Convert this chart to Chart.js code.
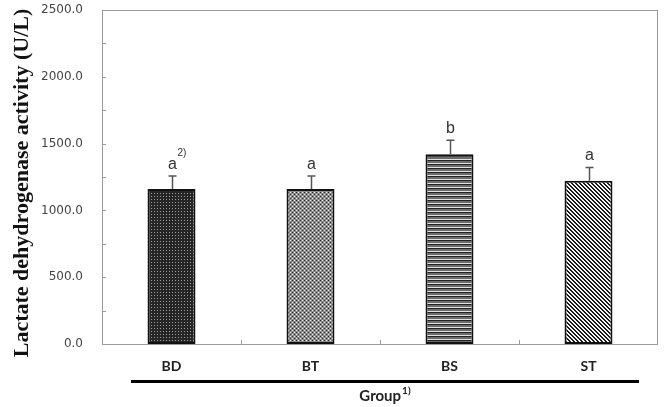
<!DOCTYPE html>
<html>
<head>
<meta charset="utf-8">
<script src="https://cdn.jsdelivr.net/npm/chart.js@4.4.1/dist/chart.umd.min.js"></script>
<style>
  html, body { margin: 0; padding: 0; background: #fff; }
  #wrap { width: 670px; height: 407px; }
</style>
</head>
<body>
<div id="wrap"><canvas id="ldhChart" width="670" height="407"></canvas></div>
<script>
// values
const groups = ['BD', 'BT', 'BS', 'ST'];
const ldhMean = [1160, 1160, 1420, 1222];
const ldhErr = [97, 97, 105, 100];
const sigLetters = ['a', 'a', 'b', 'a'];
const yMin = 0;
const yMax = 2500;
const yStep = 250;        // small ticks, label every 500
const yTitle = 'Lactate dehydrogenase activity (U/L)';
const xTitle = 'Group';

// little tiles for the hatch fills
function makePattern(w, h, paint) {
  const c = document.createElement('canvas');
  c.width = w; c.height = h;
  const g = c.getContext('2d');
  paint(g);
  return g.createPattern(c, 'repeat');
}

const fillBD = makePattern(3, 3, g => {
  g.fillStyle = '#262626'; g.fillRect(0, 0, 3, 3);
  g.fillStyle = '#9a9a9a'; g.fillRect(1, 1, 1, 1);
});
const fillBT = makePattern(4, 4, g => {
  g.fillStyle = '#8c8c8c'; g.fillRect(0, 0, 4, 4);
  g.fillStyle = '#262626'; g.fillRect(0, 0, 1, 1); g.fillRect(2, 2, 1, 1);
  g.fillStyle = '#f0f0f0'; g.fillRect(2, 0, 1, 1); g.fillRect(0, 2, 1, 1);
});
const fillBS = makePattern(1, 4, g => {
  g.fillStyle = '#222'; g.fillRect(0, 0, 1, 1);
  g.fillStyle = '#6c6c6c'; g.fillRect(0, 1, 1, 2);
  g.fillStyle = '#e0e0e0'; g.fillRect(0, 3, 1, 1);
});
const fillST = makePattern(4, 4, g => {
  g.fillStyle = '#f4f4f4'; g.fillRect(0, 0, 4, 4);
  g.fillStyle = '#1c1c1c';
  for (let y = 0; y < 4; y++) {
    g.fillRect(y % 4, y, 1, 1);
    g.fillRect((y + 1) % 4, y, 1, 1);
  }
});

// frame, inside ticks, error bars, letters, group line and titles
const extras = {
  id: 'extras',
  afterDatasetsDraw(chart) {
    const ctx = chart.ctx;
    const area = chart.chartArea;
    const xs = chart.scales.x;
    const ys = chart.scales.y;
    ctx.save();

    // frame
    ctx.strokeStyle = '#9a9a9a';
    ctx.lineWidth = 1;
    ctx.strokeRect(area.left + 0.5, area.top + 0.5, area.right - area.left - 1, area.bottom - area.top);

    // y ticks pointing in
    for (let v = yMin; v <= yMax; v += yStep) {
      const py = Math.round(ys.getPixelForValue(v)) + 0.5;
      ctx.beginPath();
      ctx.moveTo(area.left, py);
      ctx.lineTo(area.left + 4, py);
      ctx.stroke();
    }
    // x ticks between groups
    for (let i = 1; i < groups.length; i++) {
      const px = Math.round((xs.getPixelForValue(i - 1) + xs.getPixelForValue(i)) / 2) + 0.5;
      ctx.beginPath();
      ctx.moveTo(px, area.bottom);
      ctx.lineTo(px, area.bottom - 4);
      ctx.stroke();
    }

    // error bars (upper half only) + letters
    const meta = chart.getDatasetMeta(0);
    meta.data.forEach((bar, i) => {
      const x = Math.round(bar.x) + 0.5;
      const yTop = ys.getPixelForValue(ldhMean[i]);
      const yErr = ys.getPixelForValue(ldhMean[i] + ldhErr[i]);
      ctx.strokeStyle = '#555';
      ctx.lineWidth = 1.5;
      ctx.beginPath();
      ctx.moveTo(x, yTop);
      ctx.lineTo(x, yErr);
      ctx.moveTo(x - 4, yErr);
      ctx.lineTo(x + 4, yErr);
      ctx.stroke();

      ctx.fillStyle = '#333';
      ctx.font = '16px "Liberation Sans"';
      ctx.textAlign = 'center';
      ctx.textBaseline = 'alphabetic';
      ctx.fillText(sigLetters[i], x, yErr - 7);
      if (i === 0) {
        ctx.font = '10px "Liberation Sans"';
        ctx.textAlign = 'left';
        ctx.fillText('2)', x + 5, yErr - 20);
      }
    });
    ctx.restore();
  },
  afterDraw(chart) {
    const ctx = chart.ctx;
    const area = chart.chartArea;
    ctx.save();

    // thick rule under the group labels
    ctx.strokeStyle = '#000';
    ctx.lineWidth = 3;
    ctx.beginPath();
    ctx.moveTo(131, 381.5);
    ctx.lineTo(639, 381.5);
    ctx.stroke();

    // x title with superscript
    ctx.fillStyle = '#222';
    ctx.font = 'bold 15px Lato';
    ctx.textBaseline = 'alphabetic';
    const gw = ctx.measureText(xTitle).width;
    ctx.font = 'bold 10px Lato';
    const sw = ctx.measureText('1)').width;
    const gx = 385 - (gw + sw + 1) / 2;
    ctx.font = 'bold 15px Lato';
    ctx.textAlign = 'left';
    ctx.fillText(xTitle, gx, 401);
    ctx.font = 'bold 10px Lato';
    ctx.fillText('1)', gx + gw + 1, 394);

    // y title
    ctx.translate(22, (area.top + area.bottom) / 2 + 6);
    ctx.rotate(-Math.PI / 2);
    ctx.font = 'bold 22px "Liberation Serif"';
    ctx.fillStyle = '#111';
    ctx.textAlign = 'center';
    ctx.textBaseline = 'middle';
    ctx.fillText(yTitle, 0, 0);
    ctx.restore();
  }
};

new Chart(document.getElementById('ldhChart'), {
  type: 'bar',
  data: {
    labels: groups,
    datasets: [{
      data: ldhMean,
      backgroundColor: [fillBD, fillBT, fillBS, fillST],
      borderColor: '#111',
      borderWidth: 2,
      borderSkipped: false,
      barPercentage: 0.345,
      categoryPercentage: 1.0
    }]
  },
  options: {
    responsive: false,
    animation: false,
    devicePixelRatio: 1,
    layout: { padding: { top: 10, right: 12, left: 0, bottom: 0 } },
    plugins: {
      legend: { display: false },
      tooltip: { enabled: false }
    },
    scales: {
      x: {
        grid: { display: false, drawTicks: false },
        border: { display: false },
        ticks: {
          color: '#222',
          padding: 14,
          font: { family: 'Lato', weight: 'bold', size: 14 }
        },
        afterFit: s => { s.height = 63; s.paddingLeft = 0; s.paddingRight = 0; }
      },
      y: {
        min: yMin,
        max: yMax,
        grid: { display: false, drawTicks: false },
        border: { display: false },
        ticks: {
          stepSize: yStep,
          autoSkip: false,
          color: '#444',
          padding: 19,
          font: { family: 'DejaVu Sans', size: 12 },
          callback: v => (v % 500 === 0 ? v.toFixed(1) : '')
        },
        afterFit: s => { s.width = 102; s.paddingTop = 0; s.paddingBottom = 0; }
      }
    }
  },
  plugins: [extras]
});
</script>
</body>
</html>
